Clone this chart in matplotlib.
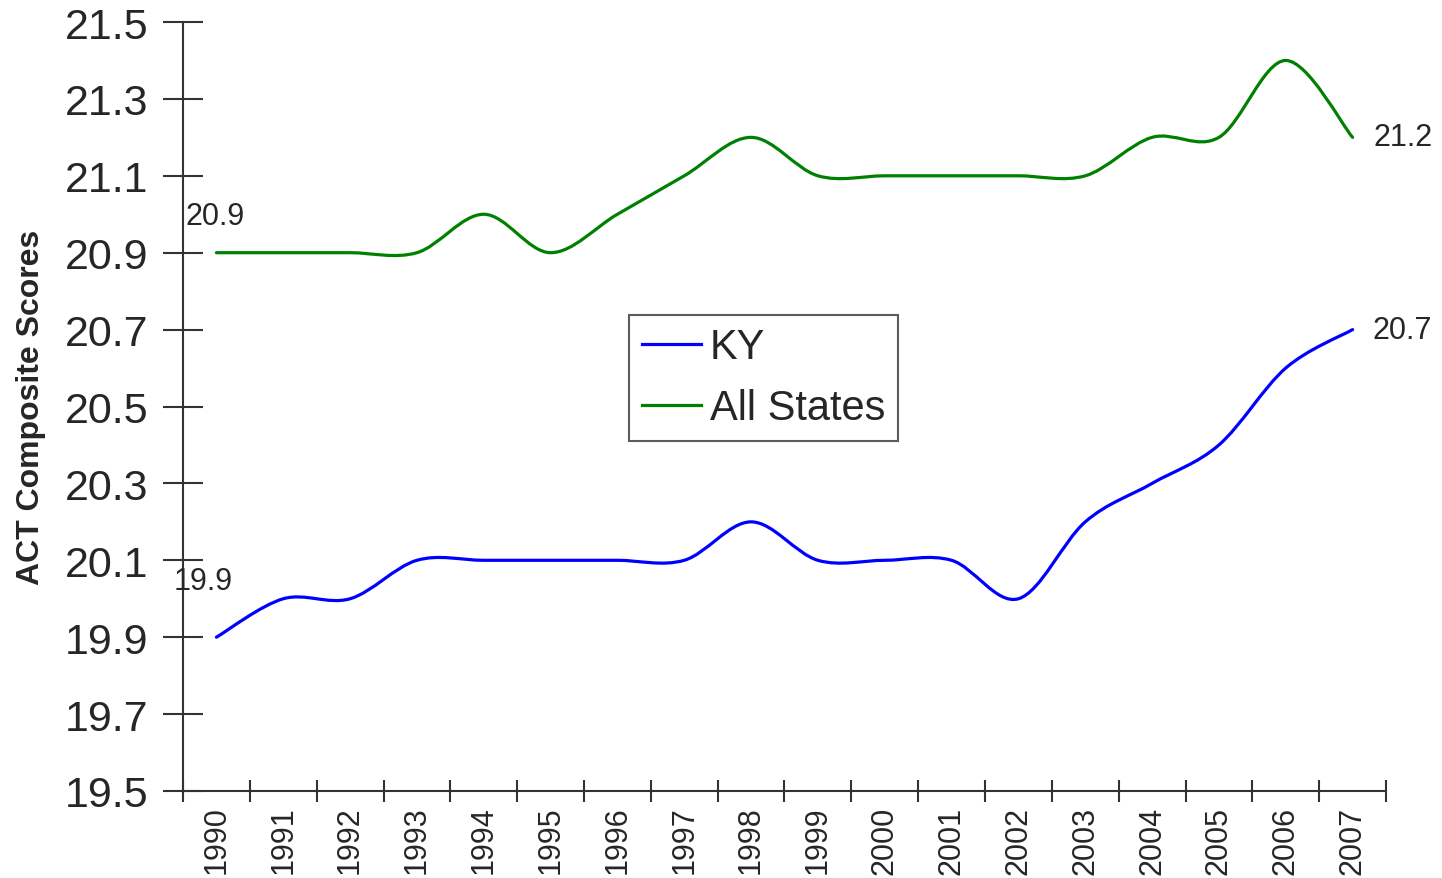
import matplotlib
matplotlib.use("Agg")
import matplotlib.pyplot as plt
from matplotlib.path import Path
from matplotlib.patches import PathPatch
from matplotlib.lines import Line2D
import numpy as np

years = ["1990", "1991", "1992", "1993", "1994", "1995", "1996", "1997", "1998",
         "1999", "2000", "2001", "2002", "2003", "2004", "2005", "2006", "2007"]
ky = [19.9, 20.0, 20.0, 20.1, 20.1, 20.1, 20.1, 20.1, 20.2,
      20.1, 20.1, 20.1, 20.0, 20.2, 20.3, 20.4, 20.6, 20.7]
all_states = [20.9, 20.9, 20.9, 20.9, 21.0, 20.9, 21.0, 21.1, 21.2,
              21.1, 21.1, 21.1, 21.1, 21.1, 21.2, 21.2, 21.4, 21.2]
yticks = [19.5, 19.7, 19.9, 20.1, 20.3, 20.5, 20.7, 20.9, 21.1, 21.3, 21.5]

plt.rcParams['font.family'] = ['Liberation Sans', 'DejaVu Sans']
TXT = '#262626'
AX = '#333333'

fig = plt.figure(figsize=(14.42, 8.79), dpi=100)
ax = fig.add_axes([183/1442, 1-792/879, (1386-183)/1442, (792-23)/879])


def smooth_path(values):
    x = np.arange(len(values), dtype=float)
    y = np.asarray(values, dtype=float)
    n = len(y)
    verts = [(x[0], y[0])]
    codes = [Path.MOVETO]
    for i in range(n - 1):
        i0 = max(i - 1, 0)
        i3 = min(i + 2, n - 1)
        c1 = (x[i] + (x[i+1] - x[i0]) / 6, y[i] + (y[i+1] - y[i0]) / 6)
        c2 = (x[i+1] - (x[i3] - x[i]) / 6, y[i+1] - (y[i3] - y[i]) / 6)
        verts += [c1, c2, (x[i+1], y[i+1])]
        codes += [Path.CURVE4] * 3
    return Path(verts, codes)


for vals, col in [(ky, '#0000ff'), (all_states, '#008000')]:
    patch = PathPatch(smooth_path(vals), facecolor='none', edgecolor=col,
                      linewidth=2.3, capstyle='round', joinstyle='round')
    ax.add_patch(patch)

ax.set_xlim(-0.5, len(years) - 0.5)
ax.set_ylim(19.5, 21.5)

ax.set_yticks(yticks)
ax.set_yticklabels([f"{v:.1f}" for v in yticks])
ax.set_xticks(np.arange(len(years)))
ax.set_xticklabels(years, rotation=90)
ax.set_xticks(np.arange(len(years) + 1) - 0.5, minor=True)

ax.tick_params(axis='y', which='major', direction='inout', length=29, width=1.5,
               color=AX, labelsize=31, labelcolor=TXT, pad=10.5)
ax.tick_params(axis='x', which='major', length=0, labelsize=22, labelcolor=TXT, pad=10.5)
ax.tick_params(axis='x', which='minor', direction='inout', length=16, width=1.5,
               color=AX)

for s in ['top', 'right']:
    ax.spines[s].set_visible(False)
for s in ['left', 'bottom']:
    ax.spines[s].set_color(AX)
    ax.spines[s].set_linewidth(1.5)

ax.set_ylabel("ACT Composite Scores", fontsize=23, fontweight='bold', color=TXT)
ax.yaxis.set_label_coords(-137/1203, 0.5)

ax.annotate("20.9", (0, all_states[0]), xytext=(-1, 37), textcoords='offset pixels',
            ha='center', va='center', fontsize=22, color=TXT)
ax.annotate("19.9", (0, ky[0]), xytext=(-13, 56), textcoords='offset pixels',
            ha='center', va='center', fontsize=22, color=TXT)
ax.annotate("21.2", (len(years) - 1, all_states[-1]), xytext=(50, 0),
            textcoords='offset pixels', ha='center', va='center', fontsize=22, color=TXT)
ax.annotate("20.7", (len(years) - 1, ky[-1]), xytext=(50, 0),
            textcoords='offset pixels', ha='center', va='center', fontsize=22, color=TXT)

handles = [Line2D([], [], color='#0000ff', linewidth=2.3),
           Line2D([], [], color='#008000', linewidth=2.3)]
leg = fig.legend(handles, ["KY", "All States"], loc='upper left',
                 bbox_to_anchor=(629/1442, 1-316/879), borderaxespad=0,
                 fontsize=30, frameon=True, fancybox=False, edgecolor=AX,
                 handlelength=1.42, handletextpad=0.22, borderpad=0.3,
                 labelspacing=0.5)
leg.get_frame().set_linewidth(1.5)
for t in leg.get_texts():
    t.set_color(TXT)

fig.savefig("out.png", dpi=100)
